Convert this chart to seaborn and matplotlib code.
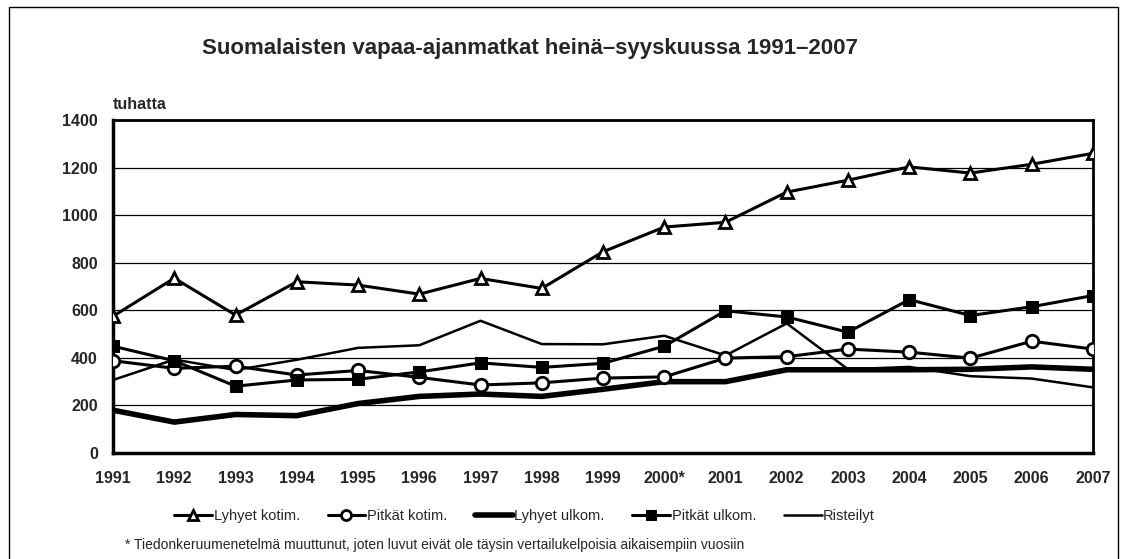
import pandas as pd
import matplotlib.pyplot as plt
import seaborn as sns
from matplotlib.patches import Rectangle

# ==========================================
# 数据（从图上读取，单位：千次）
# ==========================================
years = ['1991', '1992', '1993', '1994', '1995', '1996', '1997', '1998', '1999',
         '2000*', '2001', '2002', '2003', '2004', '2005', '2006', '2007']
lyhyet_kotim = [575, 735, 580, 720, 706, 668, 734, 692, 846, 950, 970, 1097, 1147, 1203, 1177, 1214, 1260]
pitkat_kotim = [388, 356, 365, 328, 347, 318, 286, 295, 315, 320, 399, 405, 437, 424, 399, 470, 437]
lyhyet_ulkom = [180, 130, 162, 157, 208, 238, 248, 238, 268, 300, 300, 350, 350, 350, 352, 362, 352]
pitkat_ulkom = [449, 388, 281, 307, 310, 341, 379, 360, 377, 449, 598, 572, 508, 645, 578, 615, 662]
risteilyt = [307, 393, 349, 392, 442, 453, 556, 458, 457, 493, 410, 545, 352, 362, 323, 313, 276]

sns.set_theme(style="white")
plt.rcParams['font.family'] = ['Liberation Sans', 'DejaVu Sans']

fig = plt.figure(figsize=(11.27, 5.59), dpi=100)
ax = fig.add_axes([0.1003, 0.1896, 0.8695, 0.5957])

x = list(range(len(years)))

# 每条序列的样式
sns.lineplot(x=x, y=lyhyet_kotim, ax=ax, color='black', lw=2.2, marker='^',
             markersize=9, markerfacecolor='white', markeredgecolor='black',
             markeredgewidth=2, label='Lyhyet kotim.', zorder=5)
sns.lineplot(x=x, y=pitkat_kotim, ax=ax, color='black', lw=2.2, marker='o',
             markersize=9, markerfacecolor='white', markeredgecolor='black',
             markeredgewidth=2, label='Pitkät kotim.', zorder=5)
sns.lineplot(x=x, y=lyhyet_ulkom, ax=ax, color='black', lw=4, label='Lyhyet ulkom.', zorder=4)
sns.lineplot(x=x, y=pitkat_ulkom, ax=ax, color='black', lw=2.2, marker='s',
             markersize=8.5, markerfacecolor='black', markeredgecolor='black',
             label='Pitkät ulkom.', zorder=5)
sns.lineplot(x=x, y=risteilyt, ax=ax, color='black', lw=1.8, label='Risteilyt', zorder=4)

ax.set_xlim(0, len(years) - 1)
ax.set_ylim(0, 1400)
ax.set_yticks(range(0, 1401, 200))
ax.set_xticks(x)
ax.set_xticklabels(years)
ax.yaxis.grid(True, color='black', lw=0.9)
ax.set_axisbelow(True)

for side in ['left', 'bottom', 'top', 'right']:
    ax.spines[side].set_visible(True)
    ax.spines[side].set_color('black')
ax.spines['left'].set_linewidth(2.5)
ax.spines['bottom'].set_linewidth(2.5)
ax.spines['top'].set_linewidth(2.0)
ax.spines['right'].set_linewidth(2.0)

ax.tick_params(axis='both', which='major', direction='out', length=5, width=1.2,
               color='black', labelsize=11.5, pad=6)
ax.tick_params(axis='x', pad=8)
for lbl in ax.get_xticklabels() + ax.get_yticklabels():
    lbl.set_fontweight('bold')

ax.set_xlabel('')
ax.set_ylabel('')
ax.text(0.0, 1.025, 'tuhatta', transform=ax.transAxes, fontsize=11.5,
        fontweight='bold', ha='left', va='bottom')

fig.text(0.47, 0.913, 'Suomalaisten vapaa-ajanmatkat heinä–syyskuussa 1991–2007',
         ha='center', va='center', fontsize=16, fontweight='bold')

ax.legend(loc='center', bbox_to_anchor=(0.42, -0.19), ncol=5, frameon=False,
          fontsize=10.5, handlelength=2.6, columnspacing=1.9, handletextpad=0.1,
          markerscale=0.8)

fig.text(0.111, 0.025, '* Tiedonkeruumenetelmä muuttunut, joten luvut eivät ole täysin vertailukelpoisia aikaisempiin vuosiin',
         ha='left', va='center', fontsize=10)

# 外框
fig.patches.append(Rectangle((0.008, -0.01), 0.984, 0.998, transform=fig.transFigure,
                             fill=False, edgecolor='black', lw=1.0))

fig.savefig('out.png', dpi=100)
plt.close(fig)
